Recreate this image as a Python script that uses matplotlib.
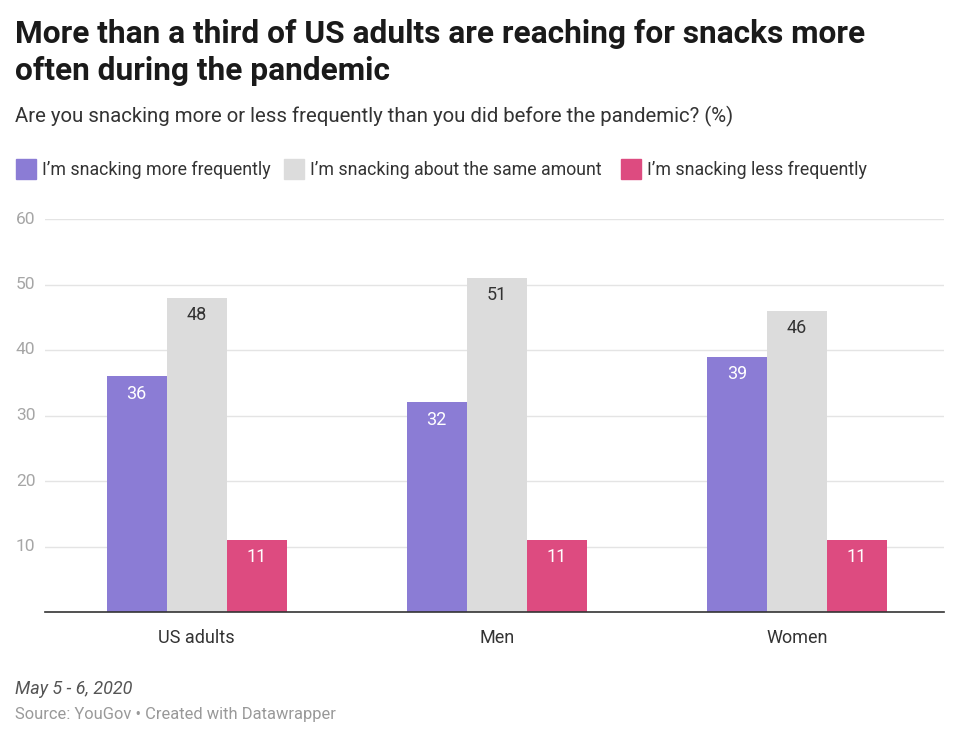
import numpy as np
import matplotlib
matplotlib.use('Agg')
import matplotlib.pyplot as plt
from matplotlib.patches import Rectangle

plt.rcParams['font.family'] = ['Roboto', 'DejaVu Sans']

# Data
groups = ['US adults', 'Men', 'Women']
series_names = ["I\u2019m snacking more frequently",
                "I\u2019m snacking about the same amount",
                "I\u2019m snacking less frequently"]
more_often = [36, 32, 39]
same_amount = [48, 51, 46]
less_often = [11, 11, 11]
y_ticks = [10, 20, 30, 40, 50, 60]

colors = ['#8b7cd5', '#dcdcdc', '#dd4b80']
label_colors = ['white', '#333333', 'white']

W, H = 959, 751
fig = plt.figure(figsize=(W / 100, H / 100), dpi=100)
fig.patch.set_facecolor('white')

# axes placed in pixel coordinates of the reference
ax = fig.add_axes([45 / W, 1 - 612 / H, (944 - 45) / W, (612 - 219) / H])

x = np.arange(len(groups))
width = 0.2
values = [more_often, same_amount, less_often]
for i, vals in enumerate(values):
    bars = ax.bar(x + (i - 1) * width, vals, width, color=colors[i], zorder=3)
    for b, v in zip(bars, vals):
        ax.annotate(str(v), (b.get_x() + b.get_width() / 2, v),
                    xytext=(0, -12.5), textcoords='offset points',
                    ha='center', va='center', fontsize=13,
                    color=label_colors[i], zorder=4)

ax.set_xlim(-0.505, 2.49)
ax.set_ylim(0, 60)
ax.set_yticks(y_ticks)
ax.set_yticklabels([])
for t in y_ticks:
    ax.text(16 / W, ax.transData.transform((0, t))[1] / H, str(t),
            transform=fig.transFigure, ha='left', va='center',
            fontsize=12.5, color='#a6a6a6')
ax.grid(axis='y', color='#e4e4e4', linewidth=1, zorder=0)
ax.tick_params(axis='both', length=0)
ax.set_xticks(x)
ax.set_xticklabels(groups, fontsize=13, color='#333333')
ax.tick_params(axis='x', pad=12)
for s in ['top', 'right', 'left']:
    ax.spines[s].set_visible(False)
ax.spines['bottom'].set_color('#333333')
ax.spines['bottom'].set_linewidth(1.2)
ax.spines['bottom'].set_zorder(5)

# titles
fig.text(15 / W, 1 - 34 / H, 'More than a third of US adults are reaching for snacks more',
         fontsize=22.8, fontweight='bold', color='#1a1a1a', va='center', ha='left')
fig.text(15 / W, 1 - 71 / H, 'often during the pandemic',
         fontsize=22.8, fontweight='bold', color='#1a1a1a', va='center', ha='left')
fig.text(15 / W, 1 - 116 / H,
         'Are you snacking more or less frequently than you did before the pandemic? (%)',
         fontsize=14.7, color='#333333', va='center', ha='left')

# legend
sq_x = [16, 284, 621]
for sx, name, c in zip(sq_x, series_names, colors):
    fig.patches.append(Rectangle((sx / W, 1 - 179 / H), 20 / W, 20 / H,
                                 transform=fig.transFigure, color=c))
    fig.text((sx + 26) / W, 1 - 170 / H, name, fontsize=12.8, color='#333333',
             va='center', ha='left')

# footer
fig.text(15 / W, 1 - 689 / H, 'May 5 - 6, 2020', fontsize=13, style='italic',
         color='#555555', va='center', ha='left')
fig.text(15 / W, 1 - 715 / H, 'Source: YouGov \u2022 Created with Datawrapper',
         fontsize=11.9, color='#999999', va='center', ha='left')

fig.savefig('out.png', dpi=100, facecolor='white')
